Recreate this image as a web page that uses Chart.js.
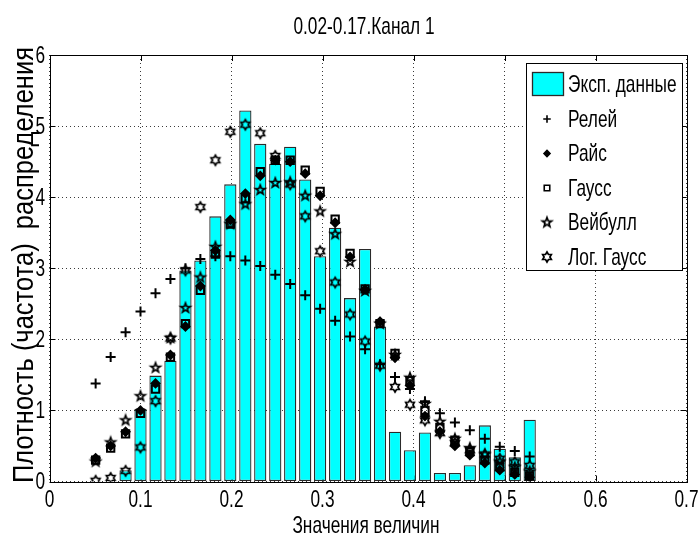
<!DOCTYPE html>
<html>
<head>
<meta charset="utf-8">
<script src="https://cdn.jsdelivr.net/npm/chart.js@4"></script>
<style>
  html, body { margin: 0; padding: 0; background: #ffffff; }
  canvas { display: block; }
</style>
</head>
<body>
<canvas id="chart" width="700" height="542"></canvas>
<script>
// Bin centres of the histogram (value of the measured quantity)
const binCenters = [0.0507, 0.0672, 0.0836, 0.1000, 0.1165, 0.1329, 0.1494, 0.1658, 0.1823, 0.1987,
                    0.2152, 0.2316, 0.2481, 0.2645, 0.2810, 0.2974, 0.3139, 0.3303, 0.3468, 0.3632,
                    0.3797, 0.3961, 0.4126, 0.4290, 0.4455, 0.4619, 0.4784, 0.4948, 0.5113, 0.5277];

// Experimental density (histogram bars); no data in the first two bins
const expDensity = [null, null, 0.16, 1.02, 1.49, 1.70, 2.97, 3.11, 3.73, 4.18,
                    5.22, 4.75, 4.47, 4.71, 4.25, 3.17, 3.57, 2.58, 3.27, 2.18,
                    0.70, 0.44, 0.69, 0.12, 0.12, 0.23, 0.79, 0.46, 0.34, 0.87];

// Fitted densities
const rayleigh = [1.38, 1.75, 2.10, 2.39, 2.65, 2.85, 3.00, 3.13, 3.17, 3.17,
                  3.11, 3.03, 2.91, 2.78, 2.62, 2.43, 2.26, 2.04, 1.86, 1.65,
                  1.47, 1.30, 1.13, 0.96, 0.83, 0.72, 0.60, 0.49, 0.43, 0.35];
const rice = [0.33, 0.50, 0.70, 1.00, 1.38, 1.78, 2.18, 2.75, 3.25, 3.68,
              4.05, 4.30, 4.52, 4.50, 4.33, 4.02, 3.64, 3.16, 2.70, 2.25,
              1.74, 1.35, 0.92, 0.70, 0.50, 0.37, 0.26, 0.16, 0.10, 0.06];
const gauss = [0.30, 0.47, 0.67, 0.96, 1.30, 1.75, 2.22, 2.69, 3.20, 3.62,
               3.98, 4.36, 4.52, 4.52, 4.38, 4.08, 3.69, 3.21, 2.71, 2.22,
               1.80, 1.42, 1.00, 0.76, 0.58, 0.42, 0.30, 0.21, 0.13, 0.08];
const weibull = [0.28, 0.55, 0.86, 1.20, 1.60, 2.02, 2.44, 2.87, 3.30, 3.62,
                 3.90, 4.10, 4.20, 4.21, 4.02, 3.80, 3.48, 3.09, 2.68, 2.22,
                 1.78, 1.46, 1.09, 0.84, 0.60, 0.47, 0.38, 0.28, 0.20, 0.14];
const logGauss = [0.01, 0.05, 0.15, 0.48, 1.13, 2.01, 2.97, 3.86, 4.52, 4.92,
                  5.02, 4.90, 4.58, 4.18, 3.73, 3.24, 2.80, 2.35, 1.97, 1.63,
                  1.33, 1.08, 0.86, 0.68, 0.54, 0.44, 0.38, 0.32, 0.27, 0.22];

// Axis ticks and labels
const xTicks = [0, 0.1, 0.2, 0.3, 0.4, 0.5, 0.6, 0.7];
const xTickLabels = ['0', '0.1', '0.2', '0.3', '0.4', '0.5', '0.6', '0.7'];
const yTicks = [0, 1, 2, 3, 4, 5, 6];
const yTickLabels = ['0', '1', '2', '3', '4', '5', '6'];

// Texts
const seriesNames = ['Эксп. данные', 'Релей', 'Райс', 'Гаусс', 'Вейбулл', 'Лог. Гаусс'];
const chartTitle = '0.02-0.17.Канал 1';
const xAxisTitle = 'Значения величин';
const yAxisTitle = 'Плотность (частота)  распределения';

const FONT = '"Liberation Sans", Arial, sans-serif';

// Star-shaped marker (pentagram / hexagram) drawn once into a small canvas
function starMarker(points, outer, inner, lw) {
  const s = 16;
  const c = document.createElement('canvas');
  c.width = s; c.height = s;
  const g = c.getContext('2d');
  g.translate(s / 2, s / 2);
  g.beginPath();
  for (let k = 0; k < points * 2; k++) {
    const r = k % 2 ? inner : outer;
    const a = -Math.PI / 2 + k * Math.PI / points;
    g.lineTo(r * Math.cos(a), r * Math.sin(a));
  }
  g.closePath();
  g.lineWidth = lw;
  g.strokeStyle = '#000';
  g.lineJoin = 'miter';
  g.stroke();
  return c;
}
const pentagram = starMarker(5, 5.0, 2.1, 1.7);
const hexagram = starMarker(6, 5.0, 2.9, 1.7);

const toPoints = ys => binCenters.map((x, i) => ({ x: x, y: ys[i] }));

function markerSet(label, ys, style, radius, filled, order) {
  return {
    type: 'scatter',
    label: label,
    data: toPoints(ys),
    pointStyle: style,
    pointRadius: radius,
    pointHoverRadius: radius,
    pointBorderWidth: 2,
    pointBorderColor: '#000',
    pointBackgroundColor: filled ? '#000' : 'rgba(0,0,0,0)',
    order: order
  };
}

const datasets = [
  {
    type: 'bar',
    label: seriesNames[0],
    data: toPoints(expDensity),
    backgroundColor: '#00ffff',
    borderColor: '#2a2a2a',
    borderWidth: 1.3,
    borderSkipped: false,
    barPercentage: 0.82,
    categoryPercentage: 1.0,
    order: 10
  },
  markerSet(seriesNames[1], rayleigh, 'cross', 5, false, 5),
  markerSet(seriesNames[2], rice, 'rectRot', 4.0, true, 4),
  markerSet(seriesNames[3], gauss, 'rect', 5.2, false, 3),
  markerSet(seriesNames[4], weibull, pentagram, 5, false, 2),
  markerSet(seriesNames[5], logGauss, hexagram, 5, false, 1)
];

// Condensed text helper
function drawText(ctx, str, x, y, size, sx, align, baseline, rotate) {
  ctx.save();
  ctx.translate(x, y);
  if (rotate) ctx.rotate(-Math.PI / 2);
  ctx.scale(sx, 1);
  ctx.font = size + 'px ' + FONT;
  ctx.fillStyle = '#000';
  ctx.textAlign = align;
  ctx.textBaseline = baseline;
  ctx.fillText(str, 0, 0);
  ctx.restore();
}

const framePlugin = {
  id: 'frameAndText',
  beforeDatasetsDraw(chart) {
    const { ctx, chartArea: a, scales } = chart;
    ctx.save();
    ctx.strokeStyle = '#000';
    ctx.lineWidth = 1;
    ctx.beginPath();
    xTicks.forEach(v => {
      const px = Math.round(scales.x.getPixelForValue(v)) + 0.5;
      ctx.moveTo(px, a.bottom); ctx.lineTo(px, a.bottom - 6);
      ctx.moveTo(px, a.top); ctx.lineTo(px, a.top + 6);
    });
    yTicks.forEach(v => {
      const py = Math.round(scales.y.getPixelForValue(v)) + 0.5;
      ctx.moveTo(a.left, py); ctx.lineTo(a.left + 6, py);
      ctx.moveTo(a.right, py); ctx.lineTo(a.right - 6, py);
    });
    ctx.stroke();
    ctx.restore();
  },
  afterDatasetsDraw(chart) {
    const { ctx, chartArea: a } = chart;
    ctx.save();
    ctx.strokeStyle = '#000';
    ctx.lineWidth = 1;
    ctx.strokeRect(Math.round(a.left) + 0.5, Math.round(a.top) + 0.5,
                   Math.round(a.right - a.left), Math.round(a.bottom - a.top));

    // legend box
    const lx = 526.5, ly = 63.5, lw = 156, lh = 207;
    ctx.fillStyle = '#fff';
    ctx.fillRect(lx, ly, lw, lh);
    ctx.strokeRect(lx, ly, lw, lh);
    const rowY = [84, 119, 153.5, 188, 222.5, 257];
    chart.data.datasets.forEach((ds, i) => {
      const cy = rowY[i];
      if (ds.type === 'bar') {
        ctx.fillStyle = ds.backgroundColor;
        ctx.fillRect(532, cy - 12, 32, 24);
        ctx.strokeStyle = ds.borderColor;
        ctx.lineWidth = 1.3;
        ctx.strokeRect(532.5, cy - 11.5, 31, 23);
      } else {
        ctx.save();
        ctx.fillStyle = ds.pointBackgroundColor;
        ctx.strokeStyle = ds.pointBorderColor;
        ctx.lineWidth = 1.6;
        Chart.helpers.drawPoint(ctx, {
          pointStyle: ds.pointStyle,
          radius: ds.pointRadius * 0.75,
          borderWidth: 1.6,
          rotation: 0
        }, 547, cy);
        ctx.restore();
      }
      drawText(ctx, ds.label, 568, cy + 1, 24, 0.72, 'left', 'middle', false);
    });
    ctx.restore();
  },
  afterDraw(chart) {
    const { ctx, chartArea: a, scales } = chart;
    const cx = (a.left + a.right) / 2;
    drawText(ctx, chartTitle, cx - 4, 34, 24, 0.72, 'center', 'alphabetic', false);
    xTicks.forEach((v, i) => {
      drawText(ctx, xTickLabels[i], scales.x.getPixelForValue(v), 507, 24, 0.72, 'center', 'alphabetic', false);
    });
    yTicks.forEach((v, i) => {
      drawText(ctx, yTickLabels[i], 45, scales.y.getPixelForValue(v) + 1, 24, 0.72, 'right', 'middle', false);
    });
    drawText(ctx, xAxisTitle, cx - 2, 533, 24, 0.72, 'center', 'alphabetic', false);
    drawText(ctx, yAxisTitle, 33, 265, 30, 0.85, 'center', 'alphabetic', true);
  }
};

Chart.register(framePlugin);

new Chart(document.getElementById('chart'), {
  type: 'bar',
  data: { datasets: datasets },
  options: {
    responsive: false,
    animation: false,
    layout: { padding: { top: 55, right: 13.5, bottom: 0, left: 0 } },
    plugins: { legend: { display: false }, tooltip: { enabled: false }, title: { display: false } },
    scales: {
      x: {
        type: 'linear', min: 0, max: 0.7, offset: false,
        afterBuildTicks: s => { s.ticks = xTicks.map(v => ({ value: v })); },
        afterFit: s => { s.height = 60.5; },
        ticks: { display: false },
        grid: { color: '#3a3a3a', lineWidth: 1, drawTicks: false, offset: false },
        border: { display: false, dash: [1, 3] }
      },
      y: {
        type: 'linear', min: 0, max: 6,
        afterBuildTicks: s => { s.ticks = yTicks.map(v => ({ value: v })); },
        afterFit: s => { s.width = 49.5; },
        ticks: { display: false },
        grid: { color: '#3a3a3a', lineWidth: 1, drawTicks: false },
        border: { display: false, dash: [1, 3] }
      }
    }
  }
});
</script>
</body>
</html>
